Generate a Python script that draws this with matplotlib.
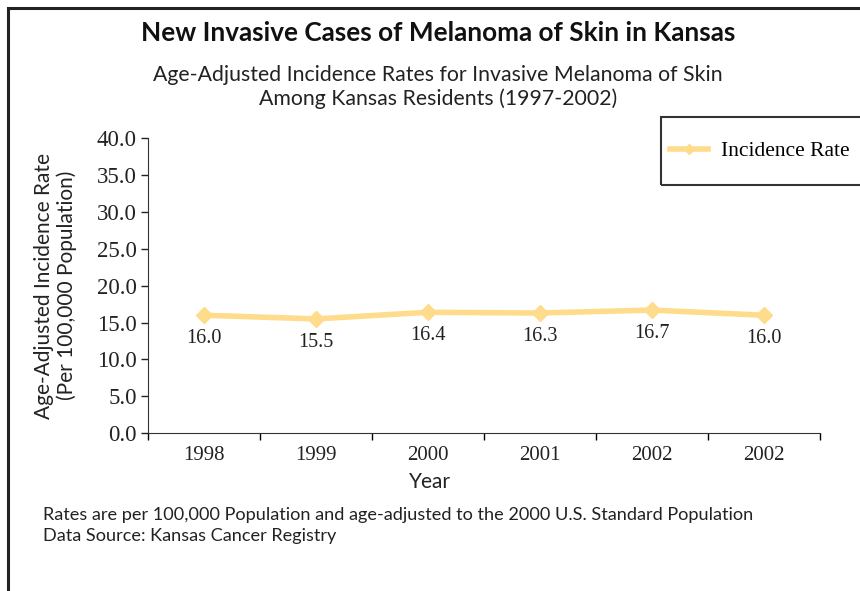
import matplotlib
import matplotlib.pyplot as plt
from matplotlib.patches import Rectangle
matplotlib.use('Agg')

years = ['1998', '1999', '2000', '2001', '2002', '2002']
rates = [16.0, 15.5, 16.4, 16.3, 16.7, 16.0]
rate_labels = ['16.0', '15.5', '16.4', '16.3', '16.7', '16.0']
y_ticks = [0, 5, 10, 15, 20, 25, 30, 35, 40]

line_color = '#FFDC8C'
sans = 'Lato'
serif = 'Liberation Serif'

fig = plt.figure(figsize=(8.6, 5.91), dpi=100)
ax = fig.add_axes([0.172, 0.267, 0.781, 0.499])

x = list(range(len(years)))
ax.plot(x, rates, color=line_color, linewidth=4, marker='D', markersize=8,
        label='Incidence Rate', solid_joinstyle='round')
for xi, yi, txt in zip(x, rates, rate_labels):
    ax.annotate(txt, (xi, yi), xytext=(0, -10), textcoords='offset points',
                ha='center', va='top', fontsize=14.5, family=serif, color='#222222')

ax.set_xlim(-0.5, len(years) - 0.5)
ax.set_ylim(0, 40)
ax.set_yticks(y_ticks)
ax.set_yticklabels(['%.1f' % v for v in y_ticks], family=serif, fontsize=16.5)
ax.set_xticks(x)
ax.set_xticklabels(years, family=serif, fontsize=15)
ax.set_xticks([i - 0.5 for i in range(len(years) + 1)], minor=True)
ax.tick_params(axis='x', which='major', length=0, pad=9, colors='#222222')
ax.tick_params(axis='x', which='minor', length=5, width=1, direction='out')
ax.tick_params(axis='y', length=5, width=1, direction='out', pad=3, colors='#222222')
ax.spines['top'].set_visible(False)
ax.spines['right'].set_visible(False)
ax.spines['left'].set_color('#333333')
ax.spines['bottom'].set_color('#333333')

ax.set_xlabel('Year', family=sans, fontsize=15, color='#222222')
ax.xaxis.set_label_coords(0.42, -0.13)
ax.set_ylabel('Age-Adjusted Incidence Rate\n(Per 100,000 Population)', family=sans,
              fontsize=15, color='#222222', linespacing=1.15)
ax.yaxis.set_label_coords(-0.105, 0.5)

fig.text(0.509, 0.944, 'New Invasive Cases of Melanoma of Skin in Kansas', ha='center',
         va='center', family=sans, fontweight='bold', fontsize=18.8, color='#111111')
fig.text(0.509, 0.853, 'Age-Adjusted Incidence Rates for Invasive Melanoma of Skin\n'
         'Among Kansas Residents (1997-2002)', ha='center', va='center', family=sans,
         fontsize=15.3, color='#222222', linespacing=1.2)

fig.text(0.05, 0.111, 'Rates are per 100,000 Population and age-adjusted to the 2000 U.S. Standard Population\n'
         'Data Source: Kansas Cancer Registry', ha='left', va='center', family=sans,
         fontsize=13.05, color='#222222', linespacing=1.38)

# legend box (extends past the right edge like the original)
fig.patches.append(Rectangle((0.7686, 0.687), 0.3, 0.115, transform=fig.transFigure,
                             fill=False, edgecolor='#333333', linewidth=1.5))
fig.legend(loc='center left', bbox_to_anchor=(0.7795, 0.7445), frameon=False,
           prop={'family': serif, 'size': 15.5}, borderpad=0, borderaxespad=0,
           handlelength=1.77, handletextpad=0.6, markerscale=0.7)

# outer frame
fig.patches.append(Rectangle((0.009, -0.1), 1.2, 1.0865, transform=fig.transFigure,
                             fill=False, edgecolor='#222222', linewidth=2.2))

fig.savefig('out.png', dpi=100)
plt.close(fig)
